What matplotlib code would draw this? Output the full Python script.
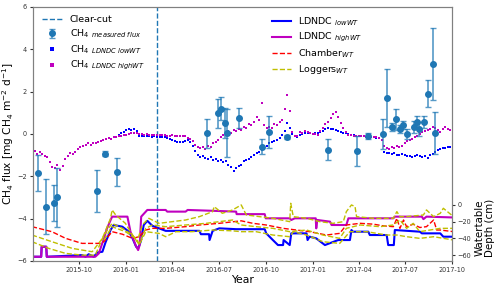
import matplotlib.pyplot as plt
import matplotlib.dates as mdates
from matplotlib.lines import Line2D
import pandas as pd

# modelled CH4 flux (LDNDC), read every 5 days from 2015-07-01
flux_start = "2015-07-01"
flux_high = [
    -0.90, -0.80, -0.95, -0.85, -0.95, -1.05, -1.10, -1.35, -1.55, -1.60,
    -1.45, -1.70, -1.50, -1.20, -1.05, -0.90, -0.95, -0.85, -0.70, -0.60,
    -0.55, -0.50, -0.45, -0.50, -0.42, -0.45, -0.38, -0.35, -0.30, -0.25,
    -0.20, -0.22, -0.15, -0.15, -0.12, -0.10, -0.05, -0.03, 0.00, 0.02,
    0.03, 0.02, 0.00, -0.02, -0.03, -0.02, -0.03, -0.04, -0.05, -0.05,
    -0.06, -0.07, -0.07, -0.08, -0.08, -0.07, -0.08, -0.09, -0.08, -0.10,
    -0.12, -0.18, -0.25, -0.35, -0.50, -0.62, -0.65, -0.60, -0.70, -0.55,
    -0.62, -0.45, -0.40, -0.30, -0.15, -0.05, 0.10, 0.15, 0.05, 0.20,
    0.15, 0.25, 0.20, 0.35, 0.30, 0.45, 0.40, 0.55, 0.80, 0.65,
    1.45, 0.40, 0.30, 0.35, 0.30, 0.45, 0.40, 0.55, 0.65, 1.20,
    1.85, 1.10, 0.10, -0.10, -0.08, 0.10, 0.05, 0.15, 0.10, 0.05,
    -0.02, 0.00, -0.05, 0.15, 0.30, 0.45, 0.55, 0.75, 0.95, 1.05,
    0.80, 0.50, 0.30, 0.10, -0.05, -0.05, -0.08, -0.10, -0.10, -0.12,
    -0.12, -0.13, -0.12, -0.13, -0.15, -0.15, -0.18, -0.28, -0.55, -0.65,
    -0.70, -0.60, -0.65, -0.55, -0.60, -0.55, -0.45, -0.35, -0.30, -0.25,
    -0.15, -0.10, 0.00, 0.10, 0.15, 0.20, 0.25, 0.35, 0.30, 0.20,
    0.10, 0.25, 0.35, 0.25, 0.20]
flux_low = [
    -0.90, -0.80, -0.95, -0.85, -0.95, -1.05, -1.10, -1.35, -1.55, -1.60,
    -1.45, -1.70, -1.50, -1.20, -1.05, -0.90, -0.95, -0.85, -0.70, -0.60,
    -0.55, -0.50, -0.45, -0.50, -0.42, -0.45, -0.38, -0.35, -0.30, -0.25,
    -0.20, -0.22, -0.15, -0.15, -0.05, 0.02, 0.10, 0.18, 0.22, 0.20,
    0.22, 0.15, -0.08, -0.10, -0.11, -0.12, -0.12, -0.13, -0.12, -0.13,
    -0.14, -0.13, -0.15, -0.18, -0.22, -0.30, -0.35, -0.37, -0.38, -0.36,
    -0.35, -0.28, -0.40, -0.55, -0.80, -1.00, -1.10, -1.05, -1.15, -1.20,
    -1.10, -1.25, -1.20, -1.30, -1.25, -1.35, -1.30, -1.45, -1.55, -1.75,
    -1.60, -1.50, -1.45, -1.30, -1.25, -1.20, -1.10, -1.00, -0.90, -0.85,
    -0.75, -0.65, -0.55, -0.45, -0.40, -0.35, -0.30, -0.20, -0.05, 0.15,
    0.50, 0.30, 0.00, -0.12, -0.15, -0.05, 0.00, 0.05, 0.05, 0.02,
    0.00, 0.02, 0.05, 0.10, 0.15, 0.25, 0.28, 0.25, 0.22, 0.20,
    0.15, 0.10, 0.05, 0.02, -0.02, -0.05, -0.07, -0.08, -0.10, -0.10,
    -0.12, -0.13, -0.12, -0.14, -0.15, -0.17, -0.20, -0.30, -0.85, -0.90,
    -0.88, -0.95, -0.90, -0.98, -1.00, -0.95, -1.00, -1.05, -1.02, -1.08,
    -1.05, -1.00, -1.05, -1.10, -1.05, -1.12, -1.00, -0.95, -0.85, -0.75,
    -0.70, -0.68, -0.65, -0.62, -0.60]

# measured chamber fluxes
meas_dates = ["2015-07-12", "2015-07-28", "2015-08-13", "2015-08-19", "2015-11-06",
              "2015-11-21", "2015-12-15", "2016-06-07", "2016-06-30", "2016-07-06",
              "2016-07-14", "2016-07-18", "2016-08-09", "2016-09-23", "2016-10-07",
              "2016-11-11", "2017-02-01", "2017-03-28", "2017-04-19", "2017-05-19",
              "2017-05-26", "2017-06-05", "2017-06-13", "2017-06-21", "2017-06-27",
              "2017-07-05", "2017-07-18", "2017-07-24", "2017-07-28", "2017-08-07",
              "2017-08-15", "2017-08-25", "2017-08-29"]
meas_flux = [-1.84, -3.45, -3.26, -3.0, -2.7, -0.94, -1.8, 0.02, 0.98, 1.2,
             0.52, 0.05, 0.76, -0.6, 0.1, -0.15, -0.75, -0.8, -0.1, 0.0,
             1.7, 0.33, 0.7, 0.23, 0.42, 0.0, 0.33, 0.57, 0.23, 0.57,
             1.9, 3.3, 0.05]
meas_err = [0.85, 1.3, 0.85, 1.4, 1.0, 0.12, 0.65, 0.68, 0.68, 0.55,
            0.7, 1.15, 0.47, 0.35, 0.75, 0.1, 0.5, 0.7, 0.15, 0.7,
            1.37, 0.2, 0.5, 0.2, 0.2, 0.25, 0.3, 0.3, 0.35, 0.3,
            0.65, 1.7, 1.0]

# water table depth (cm), days after 2015-07-01
wt_origin = "2015-07-01"
high_days = [0, 18, 19, 28, 29, 124, 131, 141, 147, 157, 187, 193, 203, 208, 211, 214, 226,
             262, 265, 301, 305, 354, 400, 401, 456, 458, 505, 508, 515, 556, 557, 559,
             584, 587, 616, 620, 708, 711, 764, 767, 773, 826]
high_wt = [-62, -62, -50, -50, -62, -62, -58, -40, -28, -14, -14, -32, -48, -54, -48, -14, -6,
           -6, -8, -8, -6, -7, -8, -11, -11, -16, -16, -18, -16, -16, -28, -18,
           -20, -24, -24, -16, -16, -14, -14, -17, -14, -15]
low_days = [0, 18, 19, 28, 29, 98, 105, 111, 121, 128, 138, 144, 154, 160, 177, 190, 197,
            204, 208, 213, 219, 226, 236, 249, 262, 328, 331, 347, 348, 354, 367, 400,
            456, 459, 472, 482, 492, 493, 505, 508, 538, 540, 544, 557, 574, 600, 623,
            626, 629, 659, 662, 695, 698, 709, 711, 760, 764, 800, 806, 826]
low_wt = [-62, -62, -50, -50, -62, -60, -62, -59, -62, -57, -56, -45, -30, -24, -26, -32, -40,
          -50, -52, -44, -24, -19, -25, -28, -31, -31, -35, -35, -42, -31, -28, -29,
          -29, -34, -42, -48, -48, -42, -48, -34, -34, -42, -38, -40, -48, -42, -42,
          -30, -32, -32, -36, -36, -48, -48, -30, -32, -34, -34, -38, -38]
chamber_days = [0, 26, 39, 66, 98, 131, 141, 157, 177, 197, 210, 223, 236, 262, 301, 328,
                367, 410, 433, 459, 492, 518, 544, 577, 603, 616, 643, 669, 688, 708,
                715, 721, 728, 734, 747, 760, 773, 787, 793, 800, 826]
chamber_wt = [-26, -30, -32, -40, -46, -46, -44, -32, -35, -40, -38, -30, -28, -28, -26, -24,
              -22, -19, -22, -24, -28, -30, -32, -36, -34, -24, -22, -23, -25, -26,
              -16, -28, -18, -26, -23, -27, -26, -18, -30, -30, -32]
logger1_days = [0, 39, 79, 118, 138, 154, 157, 164, 183, 197, 206, 216, 229, 249, 275, 301,
                328, 354, 357, 373, 393, 410, 420, 446, 472, 505, 507, 512, 538, 564,
                590, 610, 616, 626, 633, 636, 669, 708, 715, 721, 734, 767, 773, 787,
                800, 806, 826]
logger1_wt = [-36, -44, -52, -56, -40, -16, -6, -12, -22, -36, -44, -24, -16, -22, -20, -18,
              -14, -8, -2, -10, -6, 0, -12, -14, -16, -20, 2, -14, -16, -20,
              -22, -20, -8, 0, -2, -14, -16, -16, -8, -14, -14, -12, -6, -14,
              -10, -4, -14]
logger2_days = [0, 33, 66, 98, 124, 141, 157, 177, 197, 210, 223, 236, 262, 301, 341, 367,
                393, 410, 439, 472, 505, 538, 570, 603, 616, 643, 682, 708, 721, 734,
                747, 760, 800, 826]
logger2_wt = [-44, -52, -58, -60, -60, -36, -22, -28, -36, -46, -28, -24, -26, -24, -22, -20,
              -18, -24, -26, -28, -32, -30, -36, -40, -28, -24, -26, -24, -18, -28,
              -22, -32, -28, -28]
logger3_days = [141, 157, 183, 203, 210, 223, 249, 262, 282, 314, 354, 393, 410, 439, 472,
                505, 512, 538, 570, 603, 623, 656, 695, 715, 734, 760, 787, 826]
logger3_wt = [-42, -26, -32, -40, -48, -32, -34, -38, -32, -32, -30, -31, -32, -32, -36,
              -38, -32, -36, -44, -46, -32, -32, -36, -36, -38, -40, -38, -42]

clearcut_date = "2016-03-01"


def wt_dates(days):
    return pd.Timestamp(wt_origin) + pd.to_timedelta(days, unit="D")


flux_dates = pd.date_range(flux_start, periods=len(flux_high), freq="5D")

fig, ax = plt.subplots(figsize=(5, 2.88), dpi=100)
fig.subplots_adjust(left=0.066, right=0.904, bottom=0.094, top=0.976)
ax2 = ax.twinx()

cc = ax.axvline(pd.Timestamp(clearcut_date), color="#1f77b4", ls="--", lw=1, label="Clear-cut")
ax.plot(flux_dates, flux_low, "s", color="#0000ff", ms=1.8, mew=0)
ax.plot(flux_dates, flux_high, "s", color="#bf00bf", ms=1.8, mew=0)
eb = ax.errorbar(pd.to_datetime(meas_dates), meas_flux, yerr=meas_err, fmt="o", color="#1f77b4",
                 ecolor=(0.12, 0.47, 0.71, 0.75), ms=4, capsize=2.5, elinewidth=1.2,
                 label=r"CH$_4$ $_{measured\ flux}$")
# legend proxies for the dotted model series
lo = Line2D([], [], ls="", marker="s", color="#0000ff", ms=2.5, mew=0,
            label=r"CH$_4$ $_{LDNDC\ lowWT}$")
hi = Line2D([], [], ls="", marker="s", color="#bf00bf", ms=2.5, mew=0,
            label=r"CH$_4$ $_{LDNDC\ highWT}$")

l1, = ax2.plot(wt_dates(low_days), low_wt, color="#0000ff", lw=1.5, label=r"LDNDC $_{lowWT}$")
l2, = ax2.plot(wt_dates(high_days), high_wt, color="#bf00bf", lw=1.5, label=r"LDNDC $_{highWT}$")
l3, = ax2.plot(wt_dates(chamber_days), chamber_wt, color="red", ls="--", lw=1.0,
               label=r"Chamber$_{WT}$")
l4, = ax2.plot(wt_dates(logger1_days), logger1_wt, color="#bfbf00", ls="--", lw=1.0,
               label=r"Loggers$_{WT}$")
ax2.plot(wt_dates(logger2_days), logger2_wt, color="#bfbf00", ls="--", lw=1.0)
ax2.plot(wt_dates(logger3_days), logger3_wt, color="#bfbf00", ls="--", lw=1.0)

ax.set_xlim(pd.Timestamp("2015-07-03"), pd.Timestamp("2017-10-01"))
ax.set_ylim(-6, 6)
ax2.set_ylim(-67, 237)
ax2.set_yticks([-60, -40, -20, 0])

ax.xaxis.set_major_locator(mdates.MonthLocator(bymonth=[1, 4, 7, 10]))
ax.xaxis.set_major_formatter(mdates.DateFormatter("%Y-%m"))
ax.tick_params(labelsize=4.7, length=2.5, pad=2, colors="#333333")
ax2.tick_params(labelsize=4.7, length=2.5, pad=1.5, colors="#333333")
for a in (ax, ax2):
    for s in a.spines.values():
        s.set_color("#808080")

ax.set_xlabel("Year", fontsize=7.8, labelpad=1)
ax.set_ylabel(r"CH$_4$ flux [mg CH$_4$ m$^{-2}$ d$^{-1}$]", fontsize=7.6, labelpad=1)
ax2.set_ylabel("Watertable\nDepth (cm)", fontsize=7.4, linespacing=1.0)
ax2.yaxis.set_label_coords(1.054, 0.13)

leg1 = ax2.legend(handles=[cc, eb, lo, hi], loc="upper left", bbox_to_anchor=(0.0, 1.0),
                  frameon=False, fontsize=6.8, handlelength=2.2, labelspacing=0.35)
ax2.add_artist(leg1)
ax2.legend(handles=[l1, l2, l3, l4], loc="upper left", bbox_to_anchor=(0.55, 1.0),
           frameon=False, fontsize=6.8, handlelength=2.0, labelspacing=0.35)

fig.savefig("out.png", dpi=100)
